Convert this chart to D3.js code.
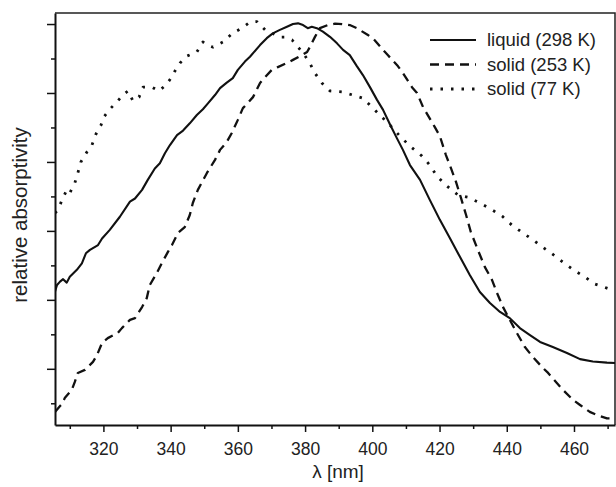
<!DOCTYPE html>
<html>
<head>
<meta charset="utf-8">
<script src="https://cdn.jsdelivr.net/npm/d3@7"></script>
<style>
    body { margin: 0; background: #fff; }
    svg { font-family: 'Liberation Sans', Arial, Helvetica, sans-serif; }
    .axis path, .axis line { stroke: #111; }
    .axis text { font-size: 17.5px; fill: #222; }
</style>
</head>
<body>
<script>
// Data (wavelength in nm, relative absorptivity)
const liquidNm = [305.6, 306.2, 307.1, 308.0, 309.1, 310.0, 312.1, 313.6, 314.8, 316.0, 318.4, 319.6, 321.9, 324.9, 327.9, 329.4, 331.5, 333.2, 335.3, 336.8, 338.3, 339.8, 341.9, 343.7, 345.7, 347.8, 349.6, 351.1, 353.2, 354.7, 356.7, 358.5, 360.0, 362.1, 363.6, 366.6, 368.6, 370.4, 372.5, 374.6, 376.4, 377.9, 379.4, 380.8, 382.0, 383.5, 385.3, 387.4, 389.5, 391.3, 393.3, 395.4, 397.2, 399.3, 401.4, 403.2, 405.2, 407.3, 409.1, 411.2, 414.2, 417.1, 420.1, 423.1, 426.1, 429.0, 432.0, 435.0, 438.0, 440.9, 443.9, 446.9, 449.9, 453.7, 457.9, 461.8, 465.6, 469.8, 472.2];
const liquidVal = [0.224, 0.243, 0.253, 0.260, 0.250, 0.267, 0.287, 0.306, 0.335, 0.345, 0.359, 0.378, 0.403, 0.441, 0.485, 0.494, 0.519, 0.548, 0.581, 0.596, 0.625, 0.649, 0.678, 0.691, 0.712, 0.736, 0.753, 0.770, 0.794, 0.814, 0.830, 0.843, 0.867, 0.891, 0.905, 0.939, 0.959, 0.973, 0.983, 0.992, 1.000, 1.002, 0.997, 0.988, 0.992, 0.988, 0.978, 0.963, 0.944, 0.925, 0.910, 0.878, 0.852, 0.817, 0.780, 0.751, 0.710, 0.669, 0.635, 0.591, 0.548, 0.490, 0.432, 0.379, 0.324, 0.272, 0.223, 0.191, 0.165, 0.147, 0.118, 0.098, 0.078, 0.063, 0.046, 0.028, 0.021, 0.018, 0.017];

const solid253Nm = [305.6, 307.1, 307.7, 308.5, 310.6, 311.5, 312.4, 314.5, 316.9, 318.1, 319.6, 321.3, 324.3, 325.5, 327.9, 329.4, 331.5, 332.9, 333.8, 335.9, 337.4, 339.2, 340.4, 342.2, 344.2, 345.7, 346.6, 348.1, 350.8, 353.2, 354.7, 356.7, 358.2, 360.0, 361.5, 362.7, 364.5, 366.6, 368.1, 370.1, 371.9, 374.6, 376.4, 379.1, 380.6, 381.4, 382.9, 384.4, 386.8, 388.9, 391.0, 393.3, 395.4, 398.7, 400.2, 403.2, 404.6, 407.6, 409.1, 411.8, 413.3, 415.1, 416.5, 418.6, 420.1, 421.9, 423.4, 424.9, 426.4, 427.9, 429.3, 431.4, 433.5, 435.6, 437.1, 438.9, 440.9, 443.0, 445.4, 447.8, 450.5, 452.3, 454.9, 456.7, 459.7, 461.8, 464.7, 466.8, 469.8, 472.2];
const solid253Val = [-0.125, -0.108, -0.102, -0.085, -0.061, -0.038, -0.012, -0.003, 0.020, 0.040, 0.075, 0.089, 0.104, 0.118, 0.142, 0.147, 0.179, 0.205, 0.243, 0.278, 0.307, 0.339, 0.359, 0.394, 0.411, 0.446, 0.481, 0.519, 0.568, 0.606, 0.635, 0.658, 0.684, 0.722, 0.756, 0.768, 0.788, 0.829, 0.846, 0.867, 0.875, 0.887, 0.896, 0.910, 0.919, 0.933, 0.962, 0.988, 0.997, 1.001, 1.000, 0.997, 0.988, 0.968, 0.959, 0.925, 0.910, 0.878, 0.858, 0.817, 0.800, 0.759, 0.736, 0.701, 0.675, 0.620, 0.582, 0.542, 0.495, 0.446, 0.397, 0.345, 0.295, 0.258, 0.220, 0.179, 0.142, 0.104, 0.063, 0.034, 0.005, -0.012, -0.041, -0.061, -0.090, -0.105, -0.125, -0.134, -0.144, -0.144];

const solid77Nm = [305.6, 306.5, 307.7, 309.1, 310.0, 311.5, 312.4, 313.3, 315.1, 316.6, 317.8, 319.3, 320.1, 321.9, 324.0, 325.8, 327.3, 328.8, 330.6, 331.8, 334.4, 336.5, 338.6, 340.1, 341.3, 342.8, 344.8, 347.8, 349.6, 350.8, 352.6, 355.6, 358.5, 361.2, 363.6, 365.7, 368.1, 369.5, 372.5, 374.0, 376.1, 377.9, 379.4, 381.4, 382.9, 385.0, 387.4, 391.0, 394.2, 397.2, 400.2, 403.2, 405.8, 408.2, 411.2, 414.8, 417.1, 419.2, 422.2, 425.5, 428.4, 432.0, 435.3, 438.6, 441.5, 444.8, 447.8, 451.1, 454.0, 457.0, 460.3, 463.3, 466.2, 469.8, 472.2];
const solid77Val = [0.452, 0.461, 0.490, 0.519, 0.510, 0.539, 0.568, 0.600, 0.629, 0.649, 0.681, 0.707, 0.730, 0.753, 0.774, 0.794, 0.806, 0.777, 0.788, 0.817, 0.817, 0.806, 0.823, 0.843, 0.864, 0.887, 0.907, 0.919, 0.948, 0.939, 0.933, 0.948, 0.974, 0.988, 1.006, 1.007, 0.983, 0.977, 0.962, 0.962, 0.954, 0.933, 0.916, 0.887, 0.858, 0.829, 0.806, 0.803, 0.794, 0.785, 0.756, 0.727, 0.701, 0.675, 0.646, 0.617, 0.591, 0.559, 0.530, 0.504, 0.498, 0.481, 0.463, 0.443, 0.417, 0.394, 0.374, 0.350, 0.330, 0.307, 0.284, 0.266, 0.246, 0.234, 0.226];

const seriesNames = ['liquid (298 K)', 'solid (253 K)', 'solid (77 K)'];
const xMajorTicks = [320, 340, 360, 380, 400, 420, 440, 460];
const xMinorTicks = [310, 330, 350, 370, 390, 410, 430, 450, 470];
const yMajorTicks = [0, 0.2, 0.4, 0.6, 0.8, 1.0];
const yMinorTicks = [-0.1, 0.1, 0.3, 0.5, 0.7, 0.9];

const width = 616, height = 487;
const plot = { left: 55, right: 615, top: 13, bottom: 425 };

const zip = (xs, ys) => xs.map((x, i) => [x, ys[i]]);
let series = [
    { name: seriesNames[0], points: zip(liquidNm, liquidVal), dash: null, w: 2.1 },
    { name: seriesNames[1], points: zip(solid253Nm, solid253Val), dash: '9,6', w: 2.3 },
    { name: seriesNames[2], points: zip(solid77Nm, solid77Val), dash: '2.5,8', w: 2.8 }
];

// Scales
let x = d3.scaleLinear().domain([305.6, 472.2]).range([plot.left, plot.right]);
let y = d3.scaleLinear().domain([-0.163, 1.032]).range([plot.bottom, plot.top]);

// Define svg
let svg = d3.select('body').append('svg').attr('width', width).attr('height', height);

// Frame (top and right)
svg.append('path')
    .attr('d', `M${plot.left},${plot.top}H${plot.right}V${plot.bottom}`)
    .attr('fill', 'none')
    .attr('stroke', '#222')
    .attr('stroke-width', 1.5);

// Set x-axis
svg.append('g')
    .attr('class', 'axis')
    .attr('transform', `translate(0, ${plot.bottom})`)
    .call(d3.axisBottom(x).tickValues(xMinorTicks).tickSize(4).tickSizeOuter(0).tickFormat(''))
    .call(g => g.select('.domain').remove())
    .selectAll('line').attr('stroke-width', 1.5);

svg.append('g')
    .attr('class', 'axis')
    .attr('transform', `translate(0, ${plot.bottom})`)
    .call(d3.axisBottom(x).tickValues(xMajorTicks).tickSize(7).tickSizeOuter(0).tickPadding(11).tickFormat(d3.format('d')))
    .call(g => g.select('.domain').attr('stroke-width', 2))
    .selectAll('line').attr('stroke-width', 1.5);

// Set y-axis
svg.append('g')
    .attr('class', 'axis')
    .attr('transform', `translate(${plot.left}, 0)`)
    .call(d3.axisLeft(y).tickValues(yMinorTicks).tickSize(4).tickSizeOuter(0).tickFormat(''))
    .call(g => g.select('.domain').remove())
    .selectAll('line').attr('stroke-width', 1.5);

svg.append('g')
    .attr('class', 'axis')
    .attr('transform', `translate(${plot.left}, 0)`)
    .call(d3.axisLeft(y).tickValues(yMajorTicks).tickSize(8).tickSizeOuter(0).tickFormat(''))
    .call(g => g.select('.domain').attr('stroke-width', 2))
    .selectAll('line').attr('stroke-width', 1.5);

// Axis labels
svg.append('text')
    .attr('text-anchor', 'middle')
    .attr('x', 338)
    .attr('y', 478)
    .attr('font-size', 19)
    .attr('fill', '#222')
    .text('λ [nm]');

svg.append('text')
    .attr('text-anchor', 'middle')
    .attr('transform', 'translate(27, 215) rotate(-90)')
    .attr('font-size', 20.5)
    .attr('fill', '#222')
    .text('relative absorptivity');

// Lines
svg.append('clipPath').attr('id', 'clip')
    .append('rect')
    .attr('x', plot.left).attr('y', plot.top)
    .attr('width', plot.right - plot.left).attr('height', plot.bottom - plot.top);

let line = d3.line().x(d => x(d[0])).y(d => y(d[1]));

svg.append('g')
    .attr('clip-path', 'url(#clip)')
    .selectAll('path')
    .data(series)
    .enter()
    .append('path')
    .attr('d', d => line(d.points))
    .attr('fill', 'none')
    .attr('stroke', '#111')
    .attr('stroke-width', d => d.w)
    .attr('stroke-dasharray', d => d.dash)
    .attr('stroke-linejoin', 'round');

// Legend
let legend = svg.append('g').selectAll('g').data(series).enter().append('g')
    .attr('transform', (d, i) => `translate(430, ${40 + i * 24.5})`);

legend.append('line')
    .attr('x1', 0).attr('x2', 46)
    .attr('stroke', '#111')
    .attr('stroke-width', d => d.w)
    .attr('stroke-dasharray', d => d.dash);

legend.append('text')
    .attr('x', 57)
    .attr('dy', '0.35em')
    .attr('font-size', 18.5)
    .attr('fill', '#222')
    .text(d => d.name);
</script>
</body>
</html>
